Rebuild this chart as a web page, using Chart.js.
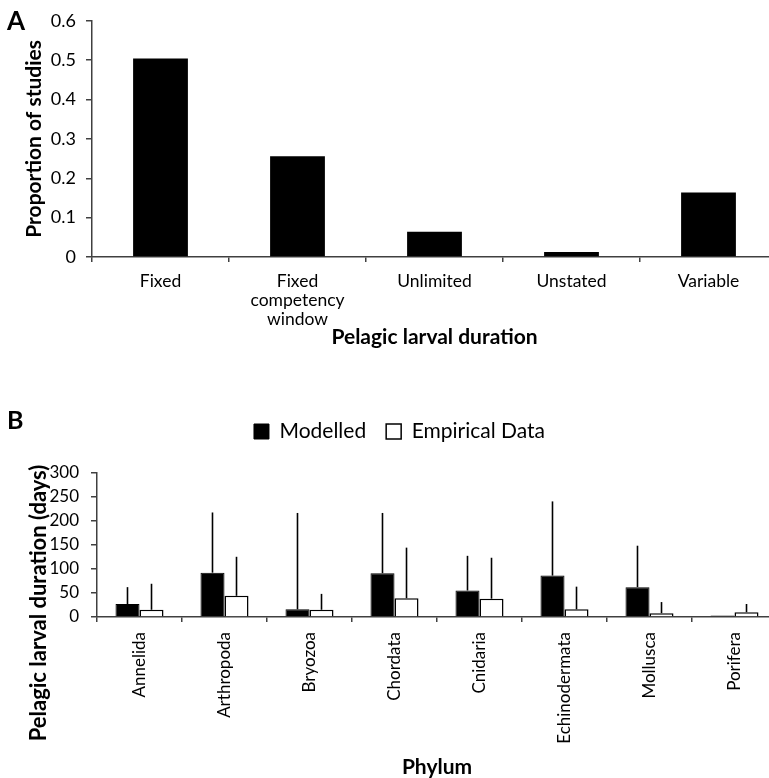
<!DOCTYPE html>
<html>
<head>
<meta charset="utf-8">
<script src="https://cdn.jsdelivr.net/npm/chart.js@4.4.1/dist/chart.umd.min.js"></script>
<style>
html, body { margin: 0; padding: 0; background: #fff; overflow: hidden; }
#wrap { position: relative; width: 769px; height: 778px; overflow: hidden; }
canvas { position: absolute; left: 0; }
#chartA { top: 0; }
#chartB { top: 380px; }
</style>
</head>
<body>
<div id="wrap">
  <canvas id="chartA" width="780" height="360"></canvas>
  <canvas id="chartB" width="780" height="400"></canvas>
</div>
<script>
// Panel A data
const durationTypes = ['Fixed', ['Fixed', 'competency', 'window'], 'Unlimited', 'Unstated', 'Variable'];
const proportionOfStudies = [0.504, 0.256, 0.064, 0.013, 0.164];
const proportionTicks = [0, 0.1, 0.2, 0.3, 0.4, 0.5, 0.6];

// Panel B data
const phyla = ['Annelida', 'Arthropoda', 'Bryozoa', 'Chordata', 'Cnidaria', 'Echinodermata', 'Mollusca', 'Porifera'];
const modelledMean = [27, 92, 16, 91, 55, 86, 62, 3];
const modelledUpper = [62, 217, 216, 216, 127, 240, 148, 3];
const empiricalMean = [15, 44, 15, 39, 38, 16, 8, 10];
const empiricalUpper = [69, 125, 48, 144, 123, 63, 31, 27];
const durationTicks = [0, 50, 100, 150, 200, 250, 300];

Chart.defaults.font.family = 'Lato, "Open Sans", sans-serif';
Chart.defaults.color = '#000';
Chart.defaults.animation = false;

const axisColor = '#404040';

// free text: panel letters and rotated titles
const extraText = {
    id: 'extraText',
    afterDraw(chart, args, opts) {
        const ctx = chart.ctx;
        (opts.items || []).forEach(t => {
            ctx.save();
            ctx.font = t.font;
            ctx.fillStyle = '#000';
            ctx.translate(t.x, t.y);
            ctx.rotate(t.rotation || 0);
            ctx.textAlign = t.align || 'left';
            ctx.textBaseline = t.baseline || 'alphabetic';
            ctx.fillText(t.text, 0, 0);
            ctx.restore();
        });
    }
};

// upper error whiskers from the bar top to the upper value
const errorBars = {
    id: 'errorBars',
    afterDatasetsDraw(chart, args, opts) {
        if (!opts.upper) return;
        const ctx = chart.ctx;
        const yScale = chart.scales.y;
        opts.upper.forEach((ups, i) => {
            const meta = chart.getDatasetMeta(i);
            meta.data.forEach((bar, j) => {
                const top = yScale.getPixelForValue(ups[j]);
                ctx.save();
                ctx.strokeStyle = '#000';
                ctx.lineWidth = 1.6;
                ctx.beginPath();
                ctx.moveTo(bar.x, bar.y);
                ctx.lineTo(bar.x, top);
                ctx.stroke();
                ctx.restore();
            });
        });
    }
};

function valueAxis(tickValues, width, pad, size) {
    return {
        min: tickValues[0],
        max: tickValues[tickValues.length - 1],
        afterBuildTicks: s => { s.ticks = tickValues.map(v => ({ value: v })); },
        afterFit: s => { s.width = width; },
        grid: { drawOnChartArea: false, tickLength: 6, color: axisColor, lineWidth: 1.5 },
        border: { color: axisColor, width: 1.5 },
        ticks: { font: { size: size }, padding: pad }
    };
}

const yA = valueAxis(proportionTicks, 92, 10, 18);
yA.title = { display: true, text: 'Proportion of studies', font: { size: 21, weight: 'bold' }, padding: { top: 22, bottom: 0 } };

new Chart(document.getElementById('chartA'), {
    type: 'bar',
    data: {
        labels: durationTypes,
        datasets: [{
            data: proportionOfStudies,
            backgroundColor: '#000',
            borderColor: '#000',
            borderWidth: 0,
            categoryPercentage: 0.4,
            barPercentage: 1
        }]
    },
    options: {
        responsive: false,
        layout: { padding: { top: 15, right: 3, left: 0, bottom: 0 } },
        plugins: {
            legend: { display: false },
            tooltip: { enabled: false },
            extraText: { items: [{ text: 'A', x: 7, y: 30, font: 'bold 26px Lato' }] }
        },
        scales: {
            x: {
                afterFit: s => { s.height = 103; },
                grid: { offset: true, drawOnChartArea: false, tickLength: 5, color: axisColor, lineWidth: 1.5 },
                border: { color: axisColor, width: 1.5 },
                ticks: { font: { size: 17.5, lineHeight: 1.09 }, padding: 10, maxRotation: 0, autoSkip: false },
                title: { display: true, text: 'Pelagic larval duration', font: { size: 21, weight: 'bold' }, padding: { top: 0, bottom: 10 } }
            },
            y: yA
        }
    },
    plugins: [extraText]
});

const yB = valueAxis(durationTicks, 75, 12, 17);

new Chart(document.getElementById('chartB'), {
    type: 'bar',
    data: {
        labels: phyla,
        datasets: [{
            label: 'Modelled',
            data: modelledMean,
            backgroundColor: '#000',
            borderColor: '#000',
            borderWidth: 1,
            categoryPercentage: 0.565,
            barPercentage: 1
        }, {
            label: 'Empirical Data',
            data: empiricalMean,
            backgroundColor: '#fff',
            borderColor: '#000',
            borderWidth: 1.5,
            categoryPercentage: 0.565,
            barPercentage: 1
        }]
    },
    options: {
        responsive: false,
        layout: { padding: { top: 21, right: 3, left: 22, bottom: 0 } },
        plugins: {
            legend: {
                display: true,
                position: 'top',
                labels: { boxWidth: 15, boxHeight: 15, padding: 20, font: { size: 21 }, color: '#000' }
            },
            // empty spacer between legend and plot
            title: { display: true, text: ' ', weight: 500, font: { size: 20.5, lineHeight: 1 }, padding: 0 },
            tooltip: { enabled: false },
            errorBars: { upper: [modelledUpper, empiricalUpper] },
            extraText: {
                items: [
                    { text: 'B', x: 7, y: 49, font: 'bold 25px Lato' },
                    { text: 'Pelagic larval duration (days)', x: 39, y: 223, rotation: -Math.PI / 2, align: 'center', baseline: 'middle', font: 'bold 22px Lato' }
                ]
            }
        },
        scales: {
            x: {
                afterFit: s => { s.height = 163; },
                grid: { offset: true, drawOnChartArea: false, tickLength: 5, color: axisColor, lineWidth: 1.5 },
                border: { color: axisColor, width: 1.5 },
                ticks: { font: { size: 17 }, padding: 10, minRotation: 90, maxRotation: 90, autoSkip: false },
                title: { display: true, text: 'Phylum', font: { size: 21, weight: 'bold' }, padding: { top: 0, bottom: 0 } }
            },
            y: yB
        }
    },
    plugins: [errorBars, extraText]
});
</script>
</body>
</html>
